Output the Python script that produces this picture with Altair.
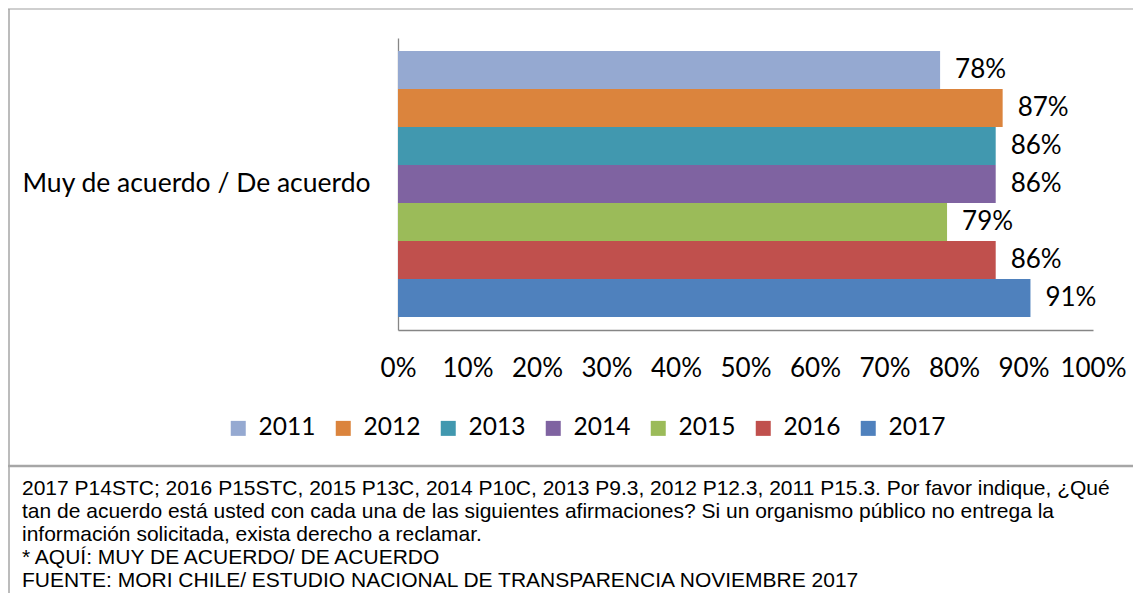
import altair as alt
import pandas as pd

category = "Muy de acuerdo / De acuerdo"
years = ["2011", "2012", "2013", "2014", "2015", "2016", "2017"]
values = [0.78, 0.87, 0.86, 0.86, 0.79, 0.86, 0.91]
colors = ["#95A9D1", "#DB843D", "#4198AF", "#7F63A1", "#9BBB59", "#C0504D", "#4F81BD"]
x_ticks = [0, 0.1, 0.2, 0.3, 0.4, 0.5, 0.6, 0.7, 0.8, 0.9, 1.0]
notes = [
    "2017 P14STC; 2016 P15STC, 2015 P13C, 2014 P10C, 2013 P9.3, 2012 P12.3, 2011 P15.3. Por favor indique, ¿Qué",
    "tan de acuerdo está usted con cada una de las siguientes afirmaciones? Si un organismo público no entrega la",
    "información solicitada, exista derecho a reclamar.",
    "* AQUÍ: MUY DE ACUERDO/ DE ACUERDO",
    "FUENTE: MORI CHILE/ ESTUDIO NACIONAL DE TRANSPARENCIA NOVIEMBRE 2017",
]

df = pd.DataFrame({"cat": [category] * len(years), "year": years, "value": values})
one = pd.DataFrame({"a": [0]})

FONT = "Lato"
NOTE_FONT = "Liberation Sans"

base = alt.Chart(df).encode(
    y=alt.Y(
        "cat:N",
        scale=alt.Scale(paddingInner=0, paddingOuter=0.049),
        axis=alt.Axis(
            title=None, labelFont=FONT, labelFontSize=26.5, labelColor="black",
            labelPadding=28, labelLimit=500, ticks=False, tickSize=0,
            domainColor="#868686", domainWidth=1.3,
        ),
    ),
    yOffset=alt.YOffset("year:N", sort=years, scale=alt.Scale(paddingInner=0, paddingOuter=0)),
)

bars = base.mark_bar().encode(
    x=alt.X(
        "value:Q",
        scale=alt.Scale(domain=[0, 1]),
        axis=alt.Axis(
            title=None, values=x_ticks, format=".0%", grid=False, ticks=False, tickSize=0,
            labelFont=FONT, labelFontSize=26, labelColor="black", labelPadding=38,
            labelBaseline="middle", labelFlush=False,
            domainColor="#868686", domainWidth=1.3,
        ),
    ),
    color=alt.Color(
        "year:N",
        sort=years,
        scale=alt.Scale(domain=years, range=colors),
        legend=alt.Legend(
            title=None, orient="none", legendX=-172, legendY=378, direction="horizontal",
            columns=7, symbolType="square", symbolSize=225, symbolStrokeWidth=0,
            labelFont=FONT, labelFontSize=24.5, labelColor="black", labelOffset=8,
            columnPadding=15,
        ),
    ),
)

labels = base.mark_text(
    align="left", baseline="middle", dx=15, font=FONT, fontSize=26, color="black"
).encode(
    x=alt.X("value:Q"),
    text=alt.Text("value:Q", format=".0%"),
)

frame_top = alt.Chart(one).mark_rule(color="#bfbfbf", strokeWidth=1.5).encode(
    x=alt.value(-390), x2=alt.value(740), y=alt.value(-29)
)
frame_left = alt.Chart(one).mark_rule(color="#a6a6a6", strokeWidth=1.5).encode(
    x=alt.value(-389), y=alt.value(-29), y2=alt.value(560)
)
frame_bottom = alt.Chart(one).mark_rule(color="#a6a6a6", strokeWidth=2.5).encode(
    x=alt.value(-390), x2=alt.value(740), y=alt.value(428)
)

note_layers = []
for i, line in enumerate(notes):
    note_layers.append(
        alt.Chart(one).mark_text(
            text=line, align="left", baseline="middle", font=NOTE_FONT, fontSize=21, color="black"
        ).encode(x=alt.value(-376), y=alt.value(451 + i * 23))
    )

chart = alt.layer(frame_top, frame_left, frame_bottom, bars, labels, *note_layers).properties(
    width=695,
    height=292,
    padding={"left": 390, "top": 30, "right": 40, "bottom": 263},
    autosize=alt.AutoSizeParams(type="none"),
    background="white",
).configure_view(stroke=None)

chart.save("out.html", embed_options={"renderer": "svg", "actions": False})
